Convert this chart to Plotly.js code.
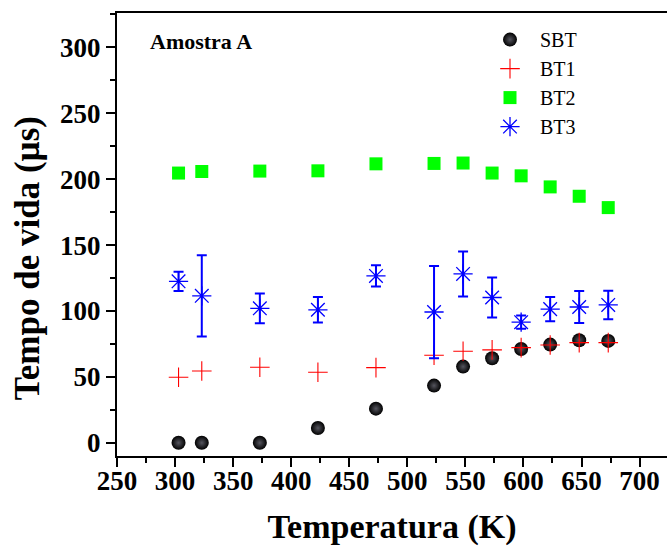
<!DOCTYPE html>
<html>
<head>
<meta charset="utf-8">
<script src="https://cdn.plot.ly/plotly-3.0.1.min.js"></script>
<style>html,body{margin:0;padding:0;overflow:hidden;background:#fff}</style>
</head>
<body>
<div id="chart" style="width:667px;height:546px"></div>
<script>
const temperatures = [303, 323, 373, 423, 473, 523, 548, 573, 598, 623, 648, 673];
const sbt = [0, 0, 0, 11.2, 25.9, 43.4, 57.8, 64.1, 71.2, 74.5, 77.8, 77.3];
const bt1 = [49.7, 54.5, 57.3, 53.5, 57.0, 66.4, 69.4, 70.5, 72.2, 74.2, 76.0, 76.0];
const bt2 = [204.6, 205.8, 206.1, 206.3, 211.6, 211.9, 212.2, 204.6, 202.5, 194.1, 187.0, 178.4];
const bt3 = [122.5, 111.5, 102.0, 100.9, 126.6, 99.2, 128.1, 110.2, 91.5, 101.4, 103.0, 104.6];
const bt3Err = [7.3, 30.8, 11.3, 9.7, 8.1, 35.0, 17.1, 15.1, 5.0, 9.2, 12.2, 10.8];
const seriesNames = ['SBT', 'BT1', 'BT2', 'BT3'];
const xTitle = 'Temperatura (K)';
const yTitle = 'Tempo de vida (µs)';
const sampleLabel = 'Amostra A';

const serif = '"Liberation Serif", "Times New Roman", serif';

const traces = [
  {
    x: temperatures, y: sbt, name: seriesNames[0], type: 'scatter', mode: 'markers',
    marker: {symbol: 'circle', size: 14, color: '#000000',
      gradient: {type: 'radial', color: '#55555e'}, line: {width: 0}}
  },
  {
    x: temperatures, y: bt1, name: seriesNames[1], type: 'scatter', mode: 'markers',
    marker: {symbol: 'cross-thin-open', size: 14, color: '#ff0000', line: {width: 1.1, color: '#ff0000'}}
  },
  {
    x: temperatures, y: bt2, name: seriesNames[2], type: 'scatter', mode: 'markers',
    marker: {symbol: 'square', size: 13, color: '#00ff00', line: {width: 0}}
  },
  {
    x: temperatures, y: bt3, name: seriesNames[3], type: 'scatter', mode: 'markers',
    error_y: {type: 'data', array: bt3Err, visible: true, color: '#0000ff', thickness: 2, width: 5},
    marker: {symbol: 'asterisk-open', size: 16, color: '#0000ff', line: {width: 1.3, color: '#0000ff'}}
  }
];

const layout = {
  width: 667, height: 546,
  margin: {l: 117, r: 0, t: 13, b: 90},
  paper_bgcolor: '#ffffff', plot_bgcolor: '#ffffff',
  font: {family: serif, color: '#000000'},
  showlegend: true,
  legend: {
    x: 0.66, y: 0.984, xanchor: 'left', yanchor: 'top',
    font: {family: serif, size: 20, color: '#000000'},
    bgcolor: 'rgba(0,0,0,0)', traceorder: 'normal',
    itemwidth: 50
  },
  xaxis: {
    range: [250, 723.6],
    tickvals: [250, 300, 350, 400, 450, 500, 550, 600, 650, 700],
    ticks: 'outside', ticklen: 9, tickwidth: 2, tickcolor: '#000',
    minor: {dtick: 25, tick0: 250, ticks: 'outside', ticklen: 5, tickwidth: 2, tickcolor: '#000', showgrid: false},
    showline: true, linewidth: 2, linecolor: '#000', mirror: true,
    showgrid: false, zeroline: false,
    ticklabelstandoff: -9,
    tickfont: {family: serif, size: 27, color: '#000', weight: 'bold'},
    title: {text: xTitle, font: {family: serif, size: 34, color: '#000', weight: 'bold'}, standoff: 22}
  },
  yaxis: {
    range: [-10, 326],
    tickvals: [0, 50, 100, 150, 200, 250, 300],
    ticks: 'outside', ticklen: 9, tickwidth: 2, tickcolor: '#000',
    minor: {dtick: 25, tick0: 0, ticks: 'outside', ticklen: 5, tickwidth: 2, tickcolor: '#000', showgrid: false},
    showline: true, linewidth: 2, linecolor: '#000', mirror: false,
    showgrid: false, zeroline: false,
    tickfont: {family: serif, size: 27, color: '#000', weight: 'bold'}
  },
  annotations: [
    {
      text: sampleLabel, xref: 'paper', yref: 'paper', x: 0.056, y: 0.935,
      xanchor: 'left', yanchor: 'middle', showarrow: false,
      font: {family: serif, size: 22, color: '#000', weight: 'bold'}
    },
    {
      text: yTitle, xref: 'paper', yref: 'paper', x: -0.162, y: 0.446,
      xanchor: 'center', yanchor: 'middle', showarrow: false, textangle: -90,
      font: {family: serif, size: 35, color: '#000', weight: 'bold'}
    }
  ]
};

Plotly.newPlot('chart', traces, layout, {displayModeBar: false, staticPlot: true});
</script>
</body>
</html>
